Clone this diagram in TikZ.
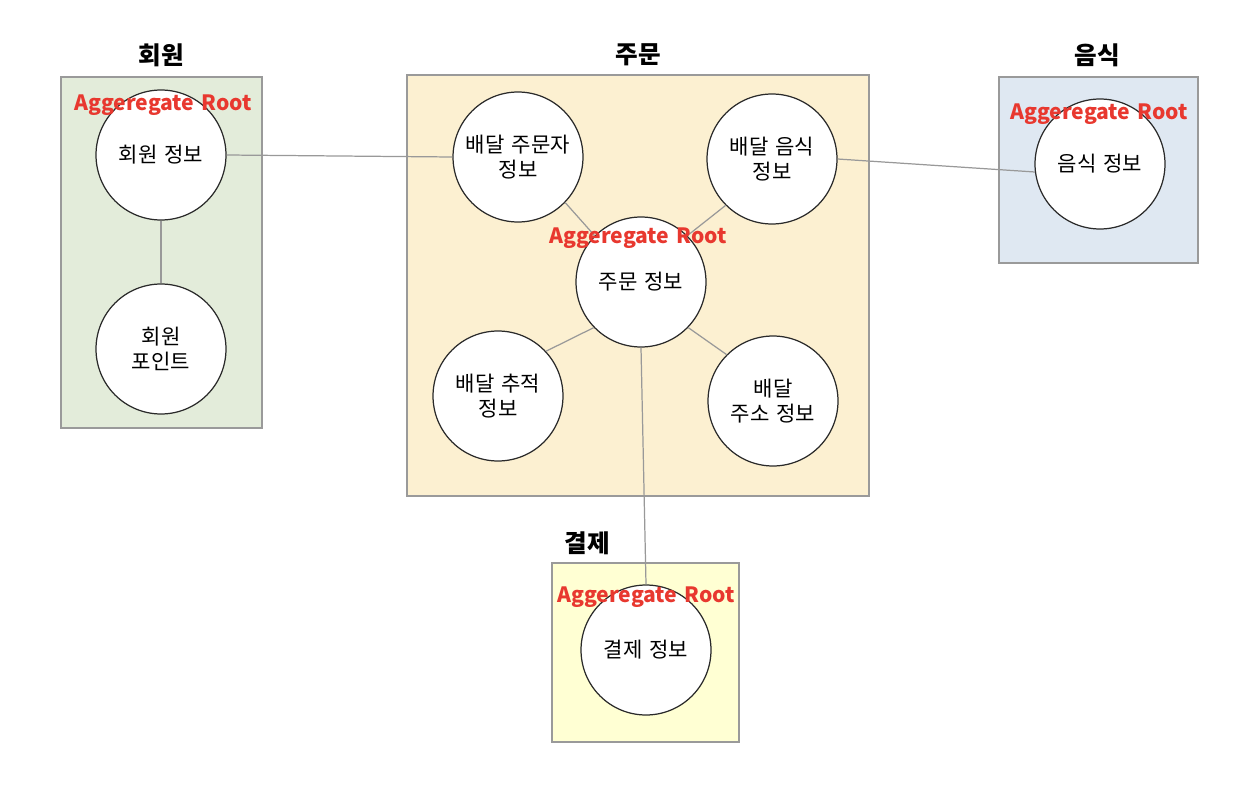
\documentclass[tikz,border=0pt]{standalone}
\usepackage{fontspec}
\setmainfont{Noto Sans CJK KR}[WordSpace=1.5]
\definecolor{memberfill}{HTML}{E3ECDA}
\definecolor{orderfill}{HTML}{FCF0D1}
\definecolor{foodfill}{HTML}{DFE8F2}
\definecolor{payfill}{HTML}{FFFFD3}
\definecolor{rootred}{HTML}{E8382F}
\definecolor{boxline}{HTML}{9A9A9A}
\definecolor{linkgray}{HTML}{999999}
\definecolor{circline}{HTML}{2A2A2A}

\begin{document}
\begin{tikzpicture}[x=0.02cm, y=-0.02cm,
		grp/.style={draw=boxline, line width=0.8pt},
		circ/.style={circle, draw=circline, line width=0.7pt, fill=white, minimum size=2.6cm, inner sep=0pt, align=center, font=\fontsize{12}{14.2}\selectfont},
		title/.style={font=\fontsize{14}{16}\selectfont\bfseries},
		rootlbl/.style={text=rootred, font=\fontsize{12}{14}\selectfont\bfseries},
		link/.style={draw=linkgray, line width=0.7pt}]
		\useasboundingbox (0,0) rectangle (1236,784);
		\draw[grp, fill=memberfill] (61,77) rectangle (262,428);
		\draw[grp, fill=orderfill] (407,75) rectangle (869,496);
		\draw[grp, fill=foodfill] (999,77) rectangle (1198,263);
		\draw[grp, fill=payfill] (552,563) rectangle (739,742);
		\node[title] (tmember) at (161,55) {회원};
		\node[title] (torder) at (638,55) {주문};
		\node[title] (tfood) at (1097,55) {음식};
		\node[title] (tpay) at (587,543) {결제};
		\node[circ] (minfo) at (161,155) {회원 정보};
		\node[circ] (mpoint) at (161,349) {회원\\포인트};
		\node[circ] (orderer) at (518,157) {배달 주문자\\정보};
		\node[circ] (ofood) at (772,159) {배달 음식\\정보};
		\node[circ] (oinfo) at (641,282) {주문 정보};
		\node[circ] (track) at (498,396) {배달 추적\\정보};
		\node[circ] (addr) at (773,401) {배달\\주소 정보};
		\node[circ] (finfo) at (1100,164) {음식 정보};
		\node[circ] (pinfo) at (646,650) {결제 정보};
		\draw[link] (minfo.south) -- (mpoint.north);
		\draw[link] (minfo.east) -- (orderer.west);
		\draw[link] (ofood.east) -- (finfo.187);
		\draw[link] (orderer.316) -- (oinfo.135);
		\draw[link] (ofood.225) -- (oinfo.45);
		\draw[link] (track.43) -- (oinfo.224);
		\draw[link] (addr.135) -- (oinfo.316);
		\draw[link] (oinfo.south) -- (pinfo.north);
		\node[rootlbl] (rmember) at (163,105) {Aggeregate Root};
		\node[rootlbl] (rorder) at (638,238) {Aggeregate Root};
		\node[rootlbl] (rfood) at (1099,114) {Aggeregate Root};
		\node[rootlbl] (rpay) at (646,597) {Aggeregate Root};
	\end{tikzpicture}
\end{document}
